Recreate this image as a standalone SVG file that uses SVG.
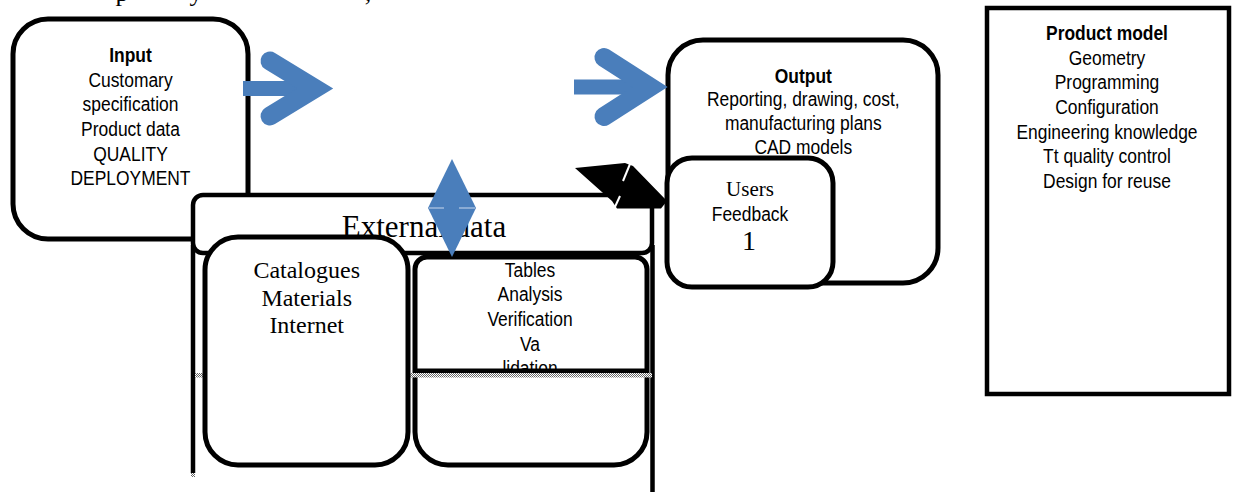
<svg xmlns="http://www.w3.org/2000/svg" width="1234" height="492" viewBox="0 0 1234 492">
<defs>
<pattern id="hatch" width="2" height="2" patternUnits="userSpaceOnUse"><rect width="2" height="2" fill="#fff"/><rect width="1" height="1" fill="#666"/><rect x="1" y="1" width="1" height="1" fill="#666"/></pattern>
<style>
.box{fill:#fff;stroke:#000;stroke-width:5}
.hd{fill:#fff;stroke:#000;stroke-width:4.5}
.vl{stroke:#000;stroke-width:4.5;fill:none}
.sans{font-family:"Liberation Sans",Arial,sans-serif;font-size:21px;text-anchor:middle;fill:#000}
.serif{font-family:"Liberation Serif","Times New Roman",serif;text-anchor:middle;fill:#000}
.b{font-weight:bold}
.blue{fill:#4A7EBB}
.chev{fill:none;stroke:#4A7EBB;stroke-width:19;stroke-linecap:round;stroke-linejoin:miter;stroke-miterlimit:10}
.slash{stroke:#fff;stroke-width:2}
</style>
</defs>
<rect width="1234" height="492" fill="#fff"/>
<text class="serif" font-size="26" y="1"><tspan x="122">p</tspan><tspan x="196">y</tspan><tspan x="368">,</tspan></text>

<g id="input">
<rect class="box" x="13" y="19" width="235" height="220" rx="35"/>
<g transform="translate(130.5,0) scale(0.83,1)">
<text class="sans b" x="0" y="62">Input</text>
<text class="sans" x="0" y="87">Customary</text>
<text class="sans" x="0" y="111">specification</text>
<text class="sans" x="0" y="136">Product data</text>
<text class="sans" x="0" y="161">QUALITY</text>
<text class="sans" x="0" y="185">DEPLOYMENT</text>
</g>
</g>

<g id="output">
<rect class="box" x="668" y="40" width="270" height="243" rx="35"/>
<g transform="translate(803.3,0) scale(0.83,1)">
<text class="sans b" x="0" y="83">Output</text>
<text class="sans" x="0" y="106">Reporting, drawing, cost,</text>
<text class="sans" x="0" y="130">manufacturing plans</text>
<text class="sans" x="0" y="154">CAD models</text>
</g>
</g>

<g id="product-model">
<rect x="987" y="8" width="242" height="386" fill="#fff" stroke="#000" stroke-width="4.5"/>
<g transform="translate(1107,0) scale(0.83,1)">
<text class="sans b" x="0" y="40">Product model</text>
<text class="sans" x="0" y="64.7">Geometry</text>
<text class="sans" x="0" y="89.4">Programming</text>
<text class="sans" x="0" y="114">Configuration</text>
<text class="sans" x="0" y="138.8">Engineering knowledge</text>
<text class="sans" x="0" y="163.5">Tt quality control</text>
<text class="sans" x="0" y="188">Design for reuse</text>
</g>
</g>

<g id="external-data">
<rect class="hd" x="193" y="195" width="459" height="58" rx="10"/>
<path class="vl" d="M193 245 V473 M652.5 245 V492"/>
<rect x="191" y="473" width="4" height="4" fill="url(#hatch)"/>
<text class="serif" font-size="31" x="424" y="237">External data</text>
</g>

<g id="tables">
<path class="box" d="M427 257 H635 A12 12 0 0 1 647 269 V432 A33 33 0 0 1 614 465 H448 A33 33 0 0 1 415 432 V269 A12 12 0 0 1 427 257 Z"/>
<g transform="translate(530,0) scale(0.83,1)">
<text class="sans" x="0" y="276.7">Tables</text>
<text class="sans" x="0" y="301.5">Analysis</text>
<text class="sans" x="0" y="326">Verification</text>
<text class="sans" x="0" y="350.7">Va</text>
<text class="sans" x="0" y="375">lidation</text>
</g>
<rect x="195" y="373" width="457" height="4.5" fill="url(#hatch)"/>
<rect x="413" y="368.5" width="234" height="4.5" fill="#000"/>
</g>

<g id="catalogues">
<rect class="box" x="205" y="237" width="203" height="228" rx="33"/>
<text class="serif" font-size="24" x="306.7" y="278">Catalogues</text>
<text class="serif" font-size="24" x="306.7" y="306">Materials</text>
<text class="serif" font-size="24" x="306.7" y="333">Internet</text>
</g>

<g id="users">
<rect class="box" x="667" y="158" width="166" height="129" rx="25"/>
<text class="serif" font-size="21" x="750" y="196">Users</text>
<g transform="translate(750,0) scale(0.83,1)"><text class="sans" x="0" y="221">Feedback</text></g>
<text class="serif" font-size="28" x="749" y="250">1</text>
</g>

<g id="connectors">
<rect class="blue" x="243" y="81" width="70" height="15"/>
<polyline class="chev" points="270,61 315,88.5 270,116"/>
<rect class="blue" x="574" y="79.5" width="70" height="15"/>
<polyline class="chev" points="604,57.5 650,87 604,116.5"/>
<path class="blue" d="M452 159 L476 208 L452 257 L428 208 Z"/>
<path d="M429 208 H444 M459 208 H475" stroke="#c9d8ee" stroke-width="1.2"/>
<polygon points="575,168 625,163 633,166 667,201 661,208.5 617,208.5 612,201" fill="#000"/>
<line class="slash" x1="630" y1="164" x2="623" y2="181"/>
<line class="slash" x1="620" y1="196" x2="614" y2="209"/>
</g>
</svg>
